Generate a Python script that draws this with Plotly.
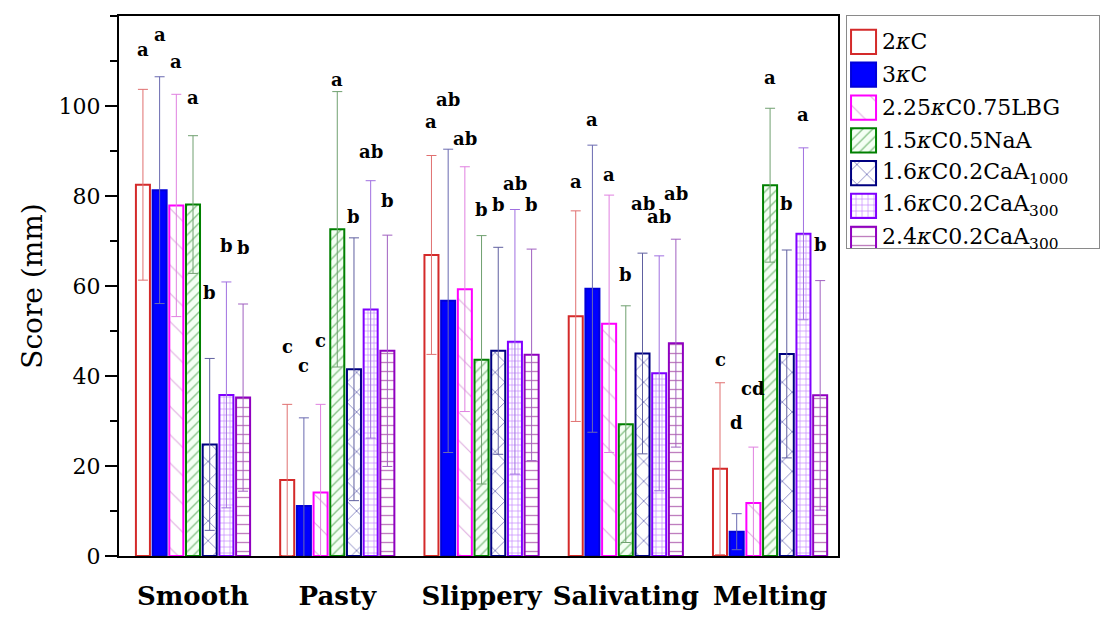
import plotly.graph_objects as go

# ---- data -------------------------------------------------------------
categories = ["Smooth", "Pasty", "Slippery", "Salivating", "Melting"]

series_names = [
    "2<i>κ</i>C",
    "3<i>κ</i>C",
    "2.25<i>κ</i>C0.75LBG",
    "1.5<i>κ</i>C0.5NaA",
    "1.6<i>κ</i>C0.2CaA<sub>1000</sub>",
    "1.6<i>κ</i>C0.2CaA<sub>300</sub>",
    "2.4<i>κ</i>C0.2CaA<sub>300</sub>",
]

mean_2kC = [82.5, 16.9, 66.9, 53.3, 19.4]
mean_3kC = [81.3, 11.1, 56.7, 59.4, 5.4]
mean_lbg = [77.9, 14.1, 59.3, 51.6, 11.8]
mean_naa = [78.1, 72.6, 43.6, 29.3, 82.4]
mean_caa1000 = [24.8, 41.5, 45.6, 45.0, 44.9]
mean_caa300 = [35.8, 54.8, 47.6, 40.6, 71.6]
mean_24caa300 = [35.2, 45.6, 44.7, 47.3, 35.7]

sd_2kC = [21.2, 16.8, 22.1, 23.4, 19.1]
sd_3kC = [25.2, 19.6, 33.7, 31.9, 4.0]
sd_lbg = [24.7, 19.6, 27.2, 28.6, 12.4]
sd_naa = [15.3, 30.6, 27.6, 26.3, 17.1]
sd_caa1000 = [19.1, 29.2, 23.0, 22.3, 23.1]
sd_caa300 = [25.1, 28.6, 29.4, 26.1, 19.1]
sd_24caa300 = [20.8, 25.7, 23.5, 23.1, 25.5]

letters_2kC = ["a", "c", "a", "a", "c"]
letters_3kC = ["a", "c", "ab", "a", "d"]
letters_lbg = ["a", "c", "ab", "a", "cd"]
letters_naa = ["a", "a", "b", "b", "a"]
letters_caa1000 = ["b", "b", "b", "ab", "b"]
letters_caa300 = ["b", "ab", "ab", "ab", "a"]
letters_24caa300 = ["b", "b", "b", "ab", "b"]

means = [mean_2kC, mean_3kC, mean_lbg, mean_naa, mean_caa1000, mean_caa300, mean_24caa300]
sds = [sd_2kC, sd_3kC, sd_lbg, sd_naa, sd_caa1000, sd_caa300, sd_24caa300]
letters = [letters_2kC, letters_3kC, letters_lbg, letters_naa,
           letters_caa1000, letters_caa300, letters_24caa300]

# ---- styling ----------------------------------------------------------
# gap (score units) between the error-bar cap and the centre of each letter
letter_gap = [
    [8.9, 12.8, 7.5, 6.5, 5.2],
    [9.5, 11.7, 11.1, 5.6, 20.3],
    [7.4, 14.3, 6.2, 4.6, 13.1],
    [8.4, 2.8, 5.7, 7.0, 6.8],
    [14.7, 4.7, 9.5, 11.1, 10.4],
    [8.1, 6.4, 5.8, 8.7, 7.5],
    [12.6, 7.8, 9.9, 10.2, 8.0],
]

line_colors = ["#D42A2A", "#0000D8", "#FF00FF", "#008000", "#000080", "#8000FF", "#9000C0"]
fill_colors = ["#FFFFFF", "#0000FF", "#FFFFFF", "#F4FFF4", "#FFFFFF", "#FFFFFF", "#FFFFFF"]
err_colors = ["#E07070", "#6A6AB0", "#E080E0", "#70A070", "#6060A0", "#A070E0", "#A060C0"]
patterns = [
    dict(shape=""),
    dict(shape=""),
    dict(shape="\\", size=20, solidity=0.06, fgcolor="#C060C0"),
    dict(shape="/", size=7, solidity=0.2, fgcolor="#208A20"),
    dict(shape="x", size=14, solidity=0.12, fgcolor="#000080"),
    dict(shape="+", size=6, solidity=0.2, fgcolor="#8000FF"),
    dict(shape="-", size=9, solidity=0.15, fgcolor="#800080"),
]

SERIF = "DejaVu Serif"
BARGAP = 0.19
N = len(series_names)
slot = (1 - BARGAP) / N
xs = list(range(len(categories)))

fig = go.Figure()

# ---- main grouped bars ------------------------------------------------
for k in range(N):
    fig.add_trace(go.Bar(
        x=xs, y=means[k], name=series_names[k],
        marker=dict(color=fill_colors[k],
                    line=dict(color=line_colors[k], width=2),
                    pattern=patterns[k]),
        error_y=dict(type="data", array=sds[k], visible=True,
                     color=err_colors[k], thickness=1, width=5),
        cliponaxis=False, showlegend=False,
        xaxis="x", yaxis="y",
    ))

# significance letters above each error bar
annotations = []
for k in range(N):
    for i in xs:
        annotations.append(dict(
            x=i + (k - (N - 1) / 2) * slot,
            y=means[k][i] + sds[k][i] + letter_gap[k][i],
            xref="x", yref="y", text="<b>%s</b>" % letters[k][i],
            showarrow=False, yanchor="middle",
            font=dict(family=SERIF, size=18, color="black"),
        ))

# ---- legend panel drawn as its own small subplot ---------------------
for k in range(N):
    fig.add_trace(go.Bar(
        y=[-k], x=[25], base=[4], width=0.74, orientation="h",
        marker=dict(color=fill_colors[k],
                    line=dict(color=line_colors[k], width=2),
                    pattern=patterns[k]),
        showlegend=False, hoverinfo="skip",
        xaxis="x2", yaxis="y2",
    ))
    annotations.append(dict(
        x=33, y=-k, xref="x2", yref="y2", text=series_names[k],
        showarrow=False, xanchor="left", yanchor="middle",
        font=dict(family=SERIF, size=22, color="black"),
    ))

fig.update_layout(
    width=1103, height=644,
    margin=dict(l=119, r=4, t=16, b=88),
    paper_bgcolor="white", plot_bgcolor="white",
    barmode="group", bargap=BARGAP, bargroupgap=0.16,
    annotations=annotations,
    font=dict(family=SERIF, color="black"),
    xaxis=dict(
        domain=[0, 0.7337], range=[-0.513, 4.471],
        tickmode="array", tickvals=xs,
        ticktext=["<b>%s</b>" % c for c in categories],
        tickfont=dict(family=SERIF, size=26, color="black"),
        ticks="", ticklabelstandoff=16,
        showline=True, linecolor="black", linewidth=2, mirror=True,
        showgrid=False, zeroline=False, anchor="y",
    ),
    yaxis=dict(
        domain=[0, 1], range=[0, 120],
        tickmode="array", tickvals=[0, 20, 40, 60, 80, 100],
        ticks="outside", ticklen=12, tickwidth=1.5, tickcolor="black",
        minor=dict(tickmode="linear", tick0=0, dtick=10, ticks="outside",
                   ticklen=7, tickwidth=1.5, tickcolor="black"),
        tickfont=dict(family=SERIF, size=22, color="black"),
        title=dict(text="Score (mm)", font=dict(family=SERIF, size=28, color="black"),
                   standoff=8),
        showline=True, linecolor="black", linewidth=2, mirror=True,
        showgrid=False, zeroline=False, anchor="x",
    ),
    xaxis2=dict(
        domain=[0.7429, 1.0], range=[0, 252], anchor="y2",
        showline=True, linecolor="#8A8A8A", linewidth=1, mirror=True,
        showticklabels=False, ticks="", showgrid=False, zeroline=False,
        fixedrange=True,
    ),
    yaxis2=dict(
        domain=[0.5704, 1.0], range=[-6.28, 0.79], anchor="x2",
        showline=True, linecolor="#8A8A8A", linewidth=1, mirror=True,
        showticklabels=False, ticks="", showgrid=False, zeroline=False,
        fixedrange=True,
    ),
)

fig.write_html("out.html")
